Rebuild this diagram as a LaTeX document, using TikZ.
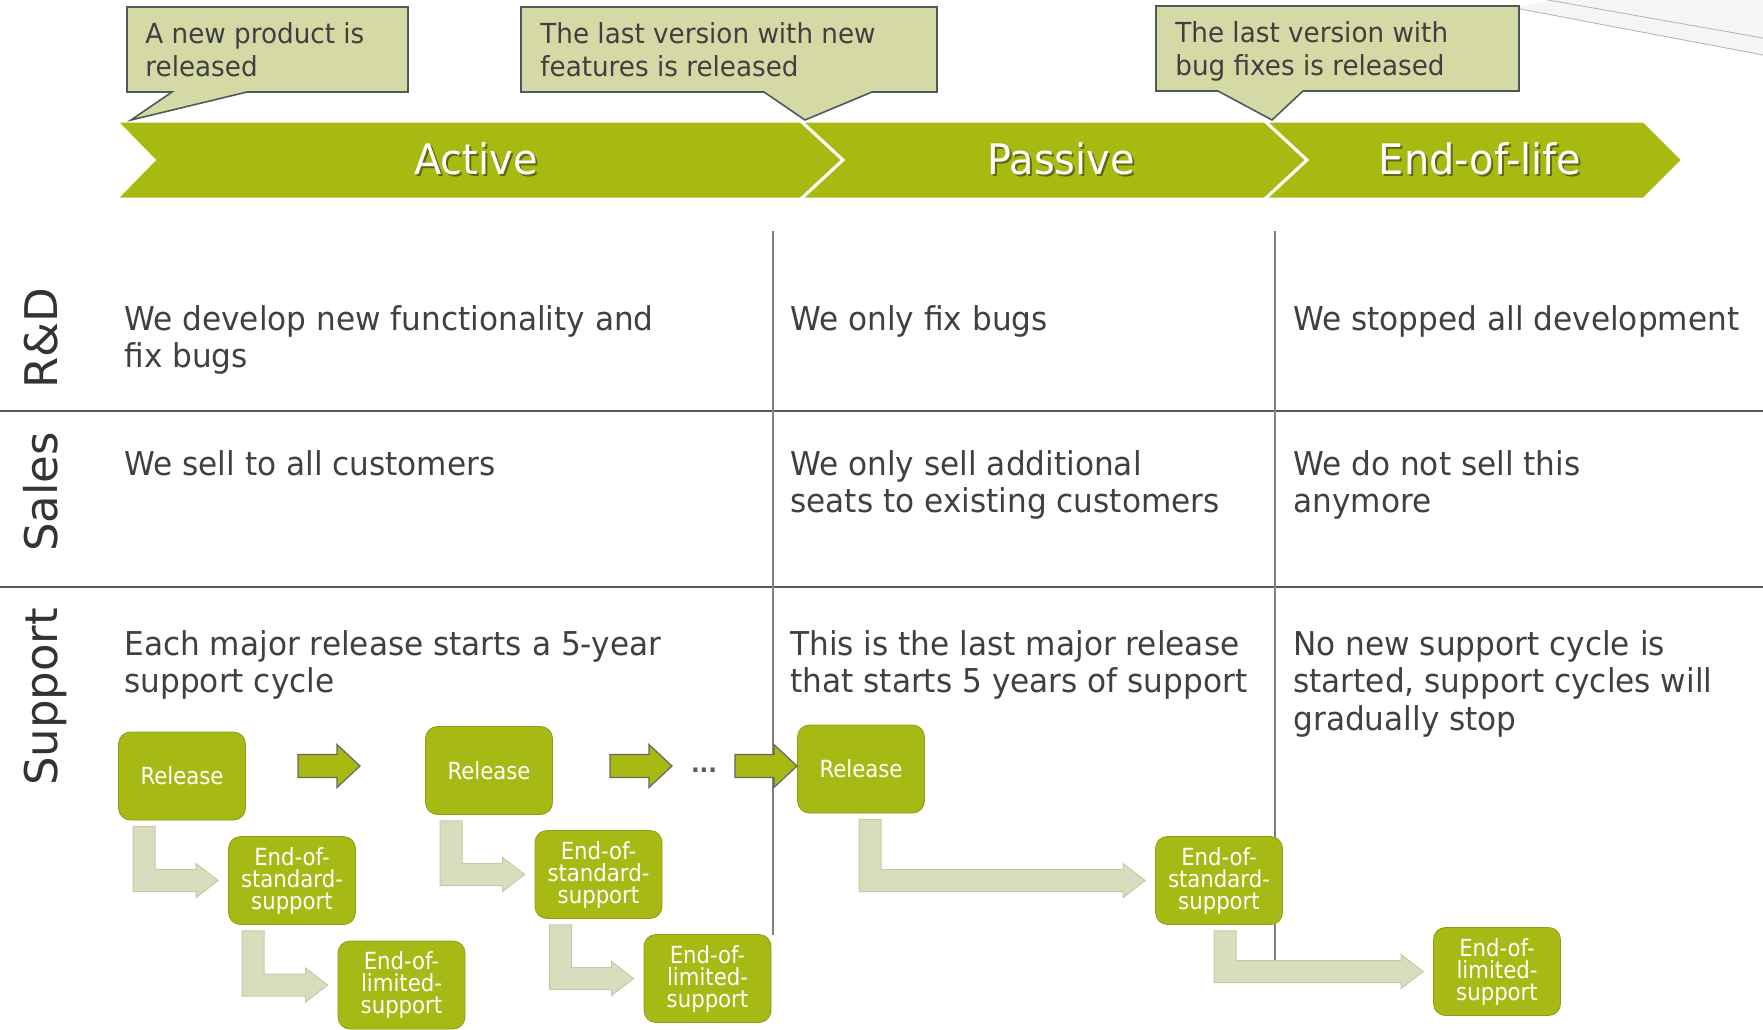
\documentclass[tikz,border=0pt]{standalone}
\usepackage{fontspec}
\setmainfont{DejaVu Sans}
\newfontfamily\bodyf{DejaVu Sans}[FakeStretch=0.95]
\newfontfamily\boxf{DejaVu Sans}[FakeStretch=0.9]
\usetikzlibrary{calc}
\definecolor{bandgreen}{HTML}{A8BA12}
\definecolor{boxgreen}{HTML}{A6B914}
\definecolor{callfill}{HTML}{D4D9A6}
\definecolor{calldraw}{HTML}{4D5A5A}
\definecolor{lfill}{HTML}{DADDBD}
\definecolor{ldraw}{HTML}{C5CAA3}
\definecolor{txt}{HTML}{404040}
\definecolor{hrule}{HTML}{4F5A5A}
\definecolor{vrule}{HTML}{808080}
\definecolor{shadowc}{HTML}{5E6A12}
\newcommand\Larrow[3]{% source node, target node, offset of the shaft
  \filldraw[lshape] let \p1=(#1.south west), \p2=(#2.west) in
    ({\x1+#3},{\y1-3pt}) -- ({\x1+#3+11pt},{\y1-3pt}) --
    ({\x1+#3+11pt},{\y2+5.5pt}) -- ({\x2-16pt},{\y2+5.5pt}) --
    ({\x2-16pt},{\y2+8.5pt}) -- ({\x2-5pt},{\y2}) --
    ({\x2-16pt},{\y2-8.5pt}) -- ({\x2-16pt},{\y2-5.5pt}) --
    ({\x1+#3},{\y2-5.5pt}) -- cycle;}
\newcommand\GArrow[1]{% left-centre coordinate
  \filldraw[garrowshape] ([shift={(0,-11.5)}]#1) -- ++(39,0) -- ++(0,-10) --
    ++(23,21.5) -- ++(-23,21.5) -- ++(0,-10) -- ++(-39,0) -- cycle;}
\begin{document}
\begin{tikzpicture}[x=0.5pt,y=-0.5pt,
  celltext/.style={font=\bodyf\fontsize{16.4}{18.75}\selectfont, text=txt, inner sep=0pt, anchor=north west, align=left},
  calltext/.style={font=\bodyf\fontsize{13.8}{16.5}\selectfont, text=txt, inner sep=0pt, anchor=north west, align=left},
  phase/.style={font=\bodyf\fontsize{21}{24}\selectfont, text=white, inner sep=0pt},
  phaseshadow/.style={font=\bodyf\fontsize{21}{24}\selectfont, text=shadowc, inner sep=0pt},
  lane/.style={font=\fontsize{22.5}{26}\selectfont, text=black!80, rotate=90, anchor=mid, inner sep=0pt},
  stagebox/.style={rectangle, rounded corners=6pt, fill=boxgreen, draw=boxgreen!85!black, line width=0.4pt, minimum width=63.5pt, minimum height=44pt, inner sep=1pt, text=white, align=center, font=\boxf\fontsize{11.8}{11}\selectfont},
  garrowshape/.style={fill=bandgreen, draw=black!60, line width=0.6pt, line join=miter},
  lshape/.style={fill=lfill, draw=ldraw, line width=0.5pt, line join=miter},
  callout/.style={fill=callfill, draw=calldraw, line width=0.8pt, line join=miter},
  chev/.style={fill=bandgreen, draw=white, line width=1.5pt, line join=miter}
]
\useasboundingbox (0,0) rectangle (1763,1029);

% faint page-curl lines at top right
\fill[black!4] (1515,8) -- (1763,55) -- (1763,0) -- (1548,0) -- cycle;
\draw[black!30, line width=0.4pt] (1515,8) -- (1763,55);
\draw[black!30, line width=0.4pt] (1548,0) -- (1763,38);

% phase banner
\filldraw[chev] (116,121) -- (801,121) -- (843,160) -- (801,199) -- (116,199) -- (154,160) -- cycle;
\filldraw[chev] (801,121) -- (1265,121) -- (1307,160) -- (1265,199) -- (801,199) -- (843,160) -- cycle;
\filldraw[chev] (1265,121) -- (1644,121) -- (1683,160) -- (1644,199) -- (1265,199) -- (1307,160) -- cycle;
\node[phaseshadow] at (478,161) {Active};
\node[phase] (active) at (476,159) {Active};
\node[phaseshadow] at (1063,161) {Passive};
\node[phase] (passive) at (1061,159) {Passive};
\node[phaseshadow] at (1482,161) {End-of-life};
\node[phase] (eol) at (1480,159) {End-of-life};

% callouts
\filldraw[callout] (127,7) -- (408,7) -- (408,92) -- (247,92) -- (131,120) -- (172,92) -- (127,92) -- cycle;
\node[calltext] (c1) at (145,22) {A new product is\\released};
\filldraw[callout] (521,7) -- (937,7) -- (937,92) -- (872,92) -- (805,120) -- (764,92) -- (521,92) -- cycle;
\node[calltext] (c2) at (540,22) {The last version with new\\features is released};
\filldraw[callout] (1156,6) -- (1519,6) -- (1519,91) -- (1303,91) -- (1272,120) -- (1218,91) -- (1156,91) -- cycle;
\node[calltext] (c3) at (1175,21) {The last version with\\bug fixes is released};

% grid lines
\draw[hrule, line width=1.1pt] (0,411) -- (1763,411);
\draw[hrule, line width=1.1pt] (0,587) -- (1763,587);
\draw[vrule, line width=0.9pt] (773,231) -- (773,935);
\draw[vrule, line width=0.9pt] (1275,231) -- (1275,967);

% lane labels
\node[lane] (rd) at (52,338) {R\&D};
\node[lane] (sales) at (52,492) {Sales};
\node[lane] (support) at (52,697) {Support};

% cell texts
\node[celltext] (t11) at (124,305) {We develop new functionality and\\fix bugs};
\node[celltext] (t12) at (790,305) {We only fix bugs};
\node[celltext] (t13) at (1293,305) {We stopped all development};
\node[celltext] (t21) at (124,450) {We sell to all customers};
\node[celltext] (t22) at (790,450) {We only sell additional\\seats to existing customers};
\node[celltext] (t23) at (1293,450) {We do not sell this\\anymore};
\node[celltext] (t31) at (124,630) {Each major release starts a 5-year\\support cycle};
\node[celltext] (t32) at (790,630) {This is the last major release\\that starts 5 years of support};
\node[celltext] (t33) at (1293,630) {No new support cycle is\\started, support cycles will\\gradually stop};

% support cycle boxes
\node[stagebox] (r1) at (182,776) {Release};
\node[stagebox] (r2) at (489,770.5) {Release};
\node[stagebox] (r3) at (861,769) {Release};
\node[stagebox] (s1) at (292,880.5) {End-of-\\standard-\\support};
\node[stagebox] (s2) at (598.5,874.5) {End-of-\\standard-\\support};
\node[stagebox] (s3) at (1219,880.5) {End-of-\\standard-\\support};
\node[stagebox] (l1) at (401.5,985) {End-of-\\limited-\\support};
\node[stagebox] (l2) at (707.5,978.5) {End-of-\\limited-\\support};
\node[stagebox] (l3) at (1497,971.5) {End-of-\\limited-\\support};

% release-to-release arrows
\coordinate (ga1) at (298,766);
\coordinate (ga2) at (610,766);
\coordinate (ga3) at (735,766);
\GArrow{ga1}
\GArrow{ga2}
\GArrow{ga3}
\node[text=black!65, font=\bodyf\fontsize{12}{12}\selectfont\bfseries, inner sep=0pt] (dots) at (704,770) {...};

% bent arrows
\Larrow{r1}{s1}{7.5pt}
\Larrow{s1}{l1}{7pt}
\Larrow{r2}{s2}{7.5pt}
\Larrow{s2}{l2}{7.5pt}
\Larrow{r3}{s3}{31pt}
\Larrow{s3}{l3}{29.5pt}
\end{tikzpicture}
\end{document}
